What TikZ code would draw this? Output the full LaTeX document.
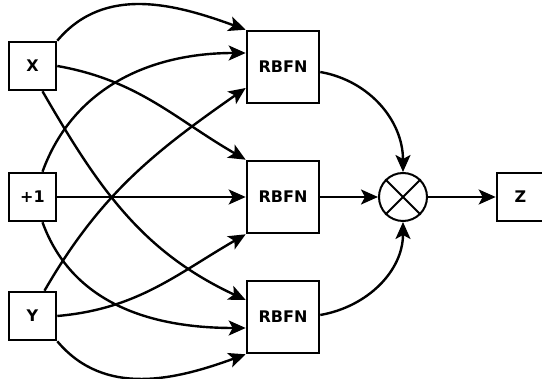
\documentclass[tikz,border=0pt]{standalone}
\usepackage{fontspec}
\setmainfont{DejaVu Sans}
\usetikzlibrary{arrows.meta}
\begin{document}
\begin{tikzpicture}[x=1pt,y=1pt,
  box/.style={draw, line width=2.6pt, minimum width=47pt, minimum height=48pt, inner sep=0pt,
    font=\bfseries\fontsize{16}{18}\selectfont},
  rbfn/.style={box, minimum width=72pt, minimum height=72pt},
  mult/.style={draw, circle, line width=2pt, minimum size=48pt, inner sep=0pt},
  link/.style={line width=2.4pt, -{Stealth[length=17pt,width=15pt,inset=4pt]}}
]
\useasboundingbox (0,0) rectangle (542,-379);
\begin{scope}
\clip (0,0) rectangle (542,-379);
\node[box] (X) at (32.5,-66) {X};
\node[box] (P) at (32.5,-197) {+1};
\node[box] (Y) at (32.5,-316) {Y};
\node[rbfn] (R1) at (283,-67) {RBFN};
\node[rbfn] (R2) at (283,-197) {RBFN};
\node[rbfn] (R3) at (283,-317) {RBFN};
\node[mult] (C) at (403,-197) {};
\node[box] (Z) at (520.5,-197) {Z};
\end{scope}
\draw[line width=2pt] (C.north east) -- (C.south west) (C.north west) -- (C.south east);

\draw[link] (X.north east) to[out=50,in=160] (R1.north west);
\draw[link] (X.east) to[out=-10,in=150] (R2.north west);
\draw[link] ([xshift=10pt]X.south) to[out=-60,in=155] ([yshift=17pt]R3.west);

\draw[link] ([xshift=10pt]P.north) to[out=70,in=180] ([yshift=14pt]R1.west);
\draw[link] (P.east) -- (R2.west);
\draw[link] ([xshift=10pt]P.south) to[out=-70,in=180] ([yshift=-11pt]R3.west);

\draw[link] ([xshift=12pt]Y.north) to[out=60,in=215] ([yshift=-21pt]R1.west);
\draw[link] (Y.east) to[out=5,in=210] (R2.south west);
\draw[link] (Y.south east) to[out=-50,in=200] (R3.south west);

\draw[link] ([yshift=-5pt]R1.east) to[out=-10,in=90] (C.north);
\draw[link] (R2.east) -- (C.west);
\draw[link] ([yshift=2pt]R3.east) to[out=10,in=-90] (C.south);
\draw[link] (C.east) -- (Z.west);
\end{tikzpicture}
\end{document}
